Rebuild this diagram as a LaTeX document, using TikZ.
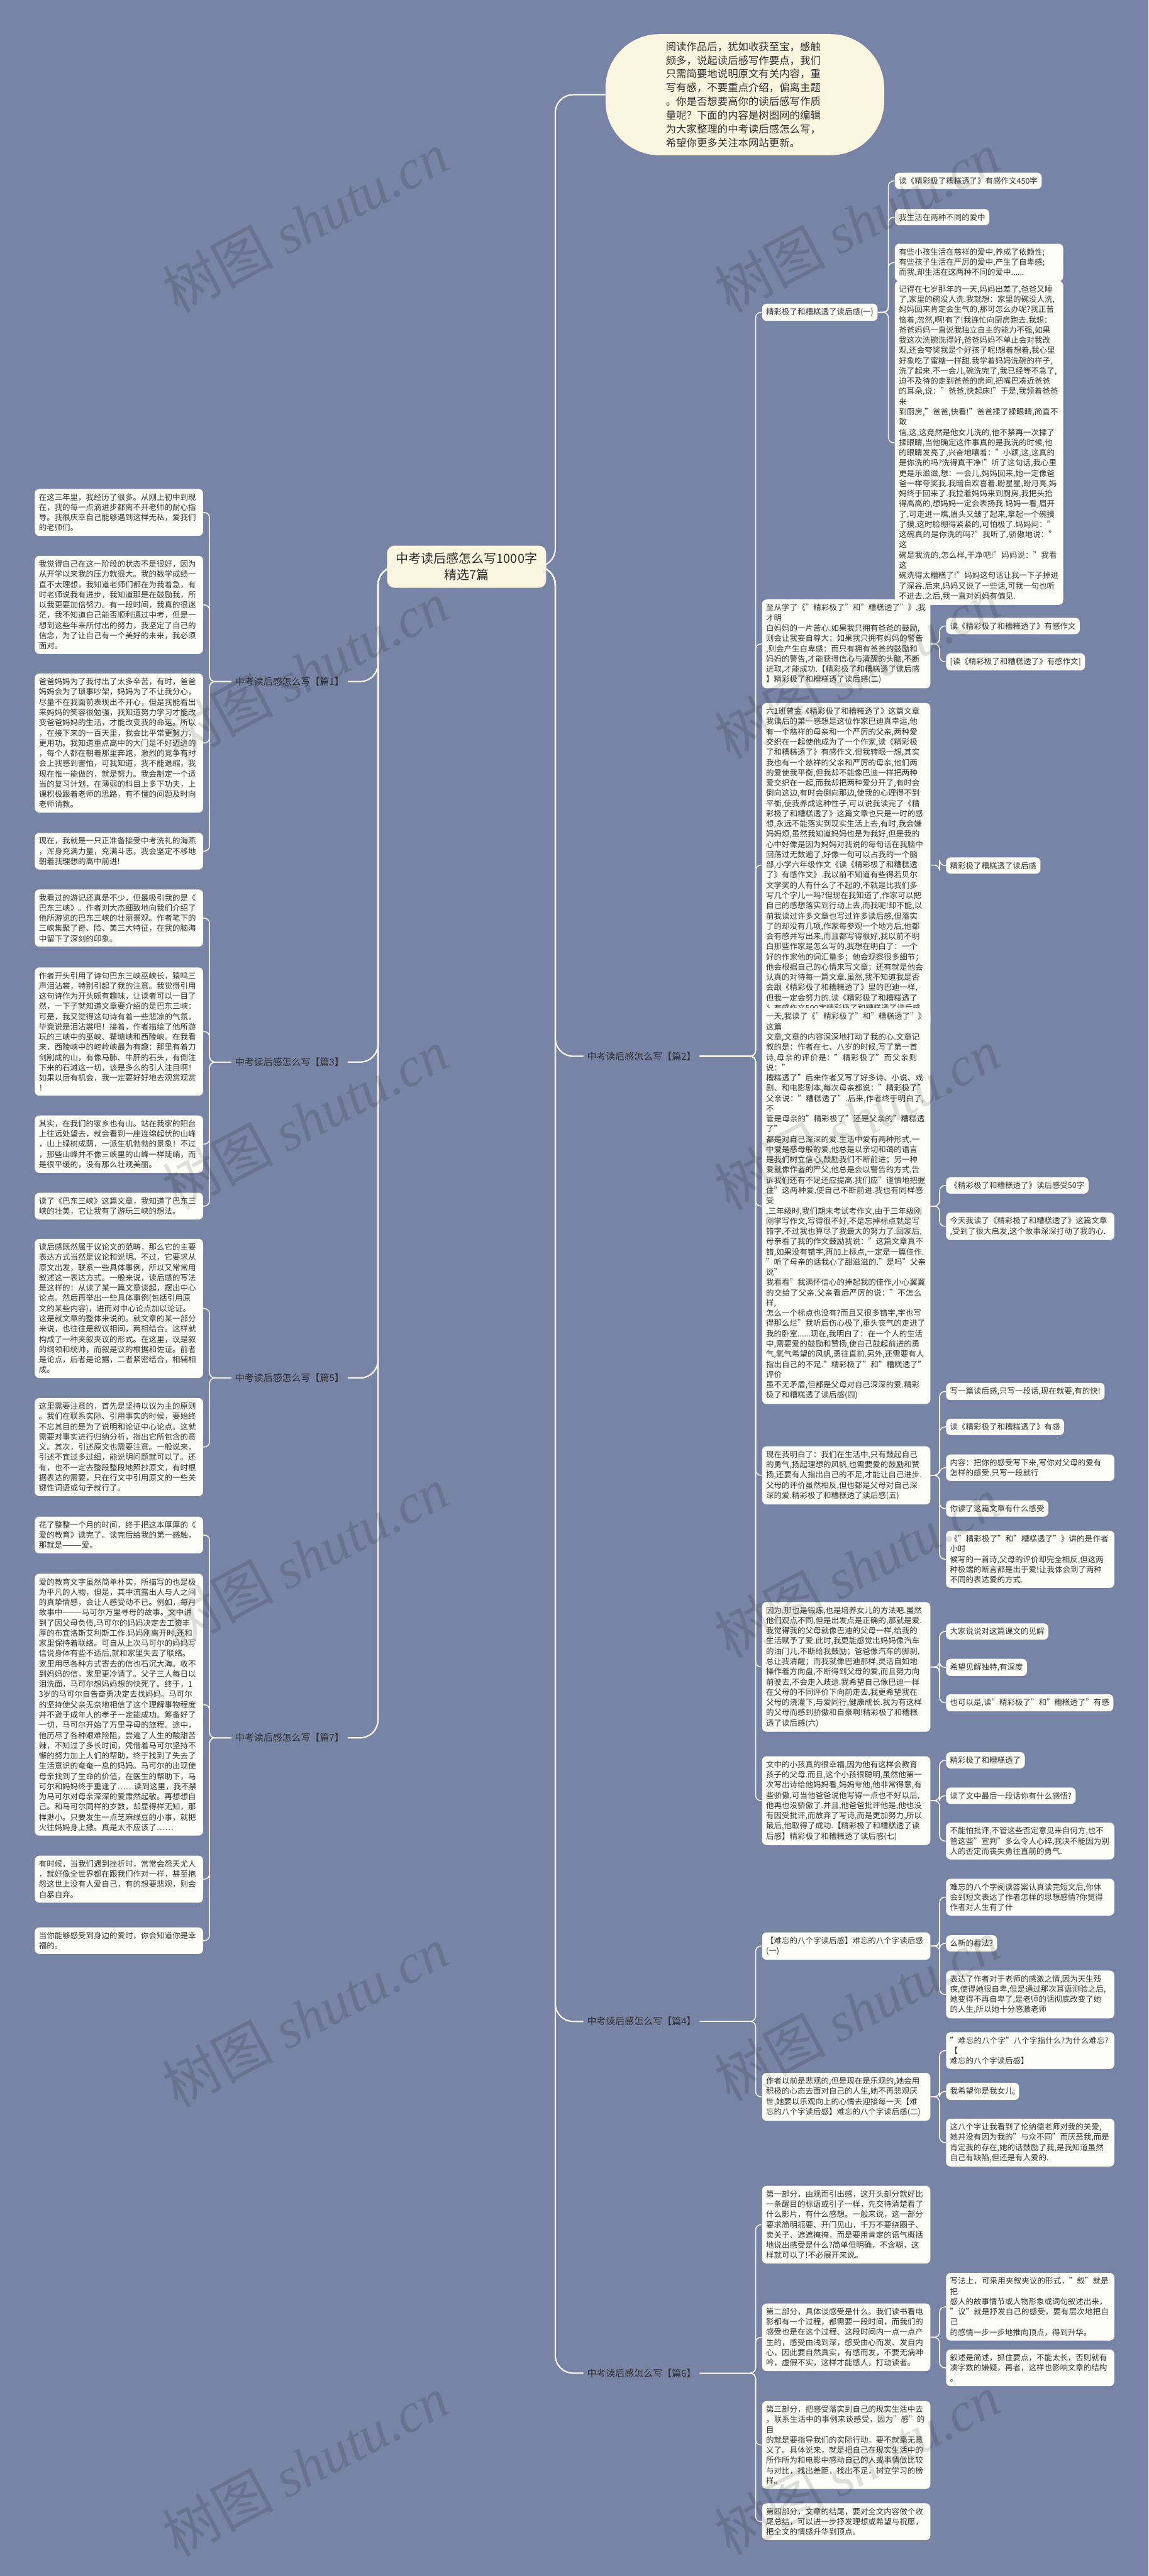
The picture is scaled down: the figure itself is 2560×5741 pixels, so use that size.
\documentclass[tikz,border=0pt]{standalone}
\usepackage{fontspec}
\setmainfont{Noto Sans CJK SC}
\newfontfamily\wmlatin{Liberation Serif}
\XeTeXlinebreaklocale "zh"
\XeTeXlinebreakskip = 0pt plus 1pt
\usetikzlibrary{calc}
\definecolor{bg}{HTML}{7884A5}
\definecolor{boxfill}{HTML}{FEFEF8}
\definecolor{cream}{HTML}{FBF6E0}
\definecolor{linec}{HTML}{F6F3E6}
\definecolor{txt}{HTML}{303030}
\newcommand\myrc[2]{\draw[conn] (#1.east) -| ($(#2.west)+(-14,0)$) -- (#2.west);}
\newcommand\mylc[2]{\draw[conn] (#1.west) -| ($(#2.east)+(14,0)$) -- (#2.east);}
\begin{document}
\begin{tikzpicture}[x=0.5pt,y=-0.5pt,
  box/.style={fill=boxfill, rounded corners=5pt, align=left, inner xsep=4.5pt, inner ysep=5pt,
    font=\fontsize{8.75pt}{11.4pt}\selectfont, text=txt},
  rbox/.style={box, anchor=west},
  lbox/.style={box, anchor=east, text width=178.5pt},
  wide/.style={text width=178.5pt},
  intro/.style={fill=cream, rounded corners=60pt, minimum width=310.5pt, minimum height=135pt,
    align=left, text width=176pt, font=\fontsize{11.5pt}{15.35pt}\selectfont, text=txt},
  centernode/.style={fill=cream, rounded corners=8pt, align=center, inner xsep=10pt, inner ysep=8pt,
    font=\fontsize{14pt}{18pt}\selectfont, text=txt},
  blabel/.style={font=\fontsize{10.5pt}{13pt}\selectfont, text=txt, inner sep=4pt},
  conn/.style={draw=linec, line width=1.1pt, rounded corners=6pt},
  conn2/.style={draw=linec, line width=1.6pt, rounded corners=20pt},
  wm/.style={rotate=28, text=black, opacity=0.12, font=\fontsize{62pt}{62pt}\selectfont},
]
\fill[bg] (0,0) rectangle (2560,5741);
\useasboundingbox (0,0) rectangle (2560,5741);

% ---------------- intro and centre ----------------
\node[intro] (intro) at (1660,211) {阅读作品后，犹如收获至宝，感触\\颇多，说起读后感写作要点，我们\\只需简要地说明原文有关内容，重\\写有感，不要重点介绍，偏离主题\\。你是否想要高你的读后感写作质\\量呢？下面的内容是树图网的编辑\\为大家整理的中考读后感怎么写，\\希望你更多关注本网站更新。};
\node[centernode] (center) at (1040,1263) {中考读后感怎么写1000字\\精选7篇};

\node[blabel, anchor=east] (b1) at (775,1519) {中考读后感怎么写【篇1】};
\node[blabel, anchor=east] (b3) at (775,2367) {中考读后感怎么写【篇3】};
\node[blabel, anchor=east] (b5) at (775,3071) {中考读后感怎么写【篇5】};
\node[blabel, anchor=east] (b7) at (775,3873) {中考读后感怎么写【篇7】};
\node[blabel, anchor=west] (b2) at (1300,2354) {中考读后感怎么写【篇2】};
\node[blabel, anchor=west] (b4) at (1300,4505) {中考读后感怎么写【篇4】};
\node[blabel, anchor=west] (b6) at (1300,5289) {中考读后感怎么写【篇6】};

% ---------------- right: 篇2 ----------------
\node[rbox] (r1) at (1698,696) {精彩极了和糟糕透了读后感(一)};
\node[rbox] (r1a) at (1994,403) {读《精彩极了糟糕透了》有感作文450字};
\node[rbox] (r1b) at (1994,484) {我生活在两种不同的爱中};
\node[rbox,wide] (r1c) at (1994,585) {有些小孩生活在慈祥的爱中,养成了依赖性;\\有些孩子生活在严厉的爱中,产生了自卑感;\\而我,却生活在这两种不同的爱中......};
\node[rbox,wide] (r1d) at (1994,987) {记得在七岁那年的一天,妈妈出差了,爸爸又睡\\了,家里的碗没人洗.我就想：家里的碗没人洗,\\妈妈回来肯定会生气的,那可怎么办呢?我正苦\\恼着,忽然,啊!有了!我连忙向厨房跑去.我想：\\爸爸妈妈一直说我独立自主的能力不强,如果\\我这次洗碗洗得好,爸爸妈妈不单止会对我改\\观,还会夸奖我是个好孩子呢!想着想着,我心里\\好象吃了蜜糖一样甜.我学着妈妈洗碗的样子,\\洗了起来.不一会儿,碗洗完了,我已经等不急了,\\迫不及待的走到爸爸的房间,把嘴巴凑近爸爸\\的耳朵,说："爸爸,快起床!"于是,我领着爸爸来\\到厨房,"爸爸,快看!"爸爸揉了揉眼睛,简直不敢\\信,这,这竟然是他女儿洗的,他不禁再一次揉了\\揉眼睛,当他确定这件事真的是我洗的时候,他\\的眼睛发亮了,兴奋地嚷着："小颖,这,这真的\\是你洗的吗?洗得真干净!"听了这句话,我心里\\更是乐滋滋,想：一会儿,妈妈回来,她一定像爸\\爸一样夸奖我.我暗自欢喜着.盼星星,盼月亮,妈\\妈终于回来了.我拉着妈妈来到厨房,我把头抬\\得高高的,想妈妈一定会表扬我.妈妈一看,眉开\\了,可走进一瞧,眉头又皱了起来,拿起一个碗摸\\了摸,这时脸绷得紧紧的,可怕极了.妈妈问："\\这碗真的是你洗的吗?"我听了,骄傲地说："这\\碗是我洗的,怎么样,干净吧!"妈妈说："我看这\\碗洗得太糟糕了!"妈妈这句话让我一下子掉进\\了深谷.后来,妈妈又说了一些话,可我一句也听\\不进去.之后,我一直对妈妈有偏见.};

\node[rbox,wide] (r2) at (1698,1435) {至从学了《"精彩极了"和"糟糕透了"》,我才明\\白妈妈的一片苦心.如果我只拥有爸爸的鼓励,\\则会让我妄自尊大；如果我只拥有妈妈的警告\\,则会产生自卑感：而只有拥有爸爸的鼓励和\\妈妈的警告,才能获得信心与清醒的头脑,不断\\进取,才能成功.【精彩极了和糟糕透了读后感\\】精彩极了和糟糕透了读后感(二)};
\node[rbox] (r2a) at (2108,1395) {读《精彩极了和糟糕透了》有感作文};
\node[rbox] (r2b) at (2108,1475) {[读《精彩极了和糟糕透了》有感作文]};

\node[rbox,wide] (r3) at (1698,1928) {六1班曾金《精彩极了和糟糕透了》这篇文章\\我读后的第一感想是这位作家巴迪真幸运,他\\有一个慈祥的母亲和一个严厉的父亲,两种爱\\交织在一起使他成为了一个作家,读《精彩极\\了和糟糕透了》有感作文.但我转眼一想,其实\\我也有一个慈祥的父亲和严厉的母亲,他们两\\的爱使我平衡,但我却不能像巴迪一样把两种\\爱交织在一起,而我却把两种爱分开了,有时会\\倒向这边,有时会倒向那边,使我的心理得不到\\平衡,使我养成这种性子,可以说我读完了《精\\彩极了和糟糕透了》这篇文章也只是一时的感\\想,永远不能落实到现实生活上去,有时,我会嫌\\妈妈烦,虽然我知道妈妈也是为我好,但是我的\\心中好像是因为妈妈对我说的每句话在我脑中\\回荡过无数遍了,好像一句可以占我的一个脑\\部,小学六年级作文《读《精彩极了和糟糕透\\了》有感作文》.我以前不知道有些得若贝尔\\文学奖的人有什么了不起的,不就是比我们多\\写几个字儿一吗?但现在我知道了,作家可以把\\自己的感想落实到行动上去,而我呢!却不能,以\\前我读过许多文章也写过许多读后感,但落实\\了的却没有几项,作家每参观一个地方后,他都\\会有感并写出来,而且都写得很好,我以前不明\\白那些作家是怎么写的,我想在明白了：一个\\好的作家他的词汇量多；他会观察很多细节；\\他会根据自己的心情来写文章；还有就是他会\\认真的对待每一篇文章.虽然,我不知道我是否\\会跟《精彩极了和糟糕透了》里的巴迪一样,\\但我一定会努力的.读《精彩极了和糟糕透了\\》有感作文500字精彩极了和糟糕透了读后感\\(三)};
\node[rbox] (r3a) at (2108,1929) {精彩极了糟糕透了读后感};

\node[rbox,wide] (r4) at (1698,2688) {一天,我读了《"精彩极了"和"糟糕透了"》这篇\\文章,文章的内容深深地打动了我的心.文章记\\叙的是：作者在七、八岁的时候,写了第一首\\诗,母亲的评价是："精彩极了"而父亲则说："\\糟糕透了"后来作者又写了好多诗、小说、戏\\剧、和电影剧本,每次母亲都说："精彩极了"\\父亲说："糟糕透了".后来,作者终于明白了,不\\管是母亲的"精彩极了"还是父亲的"糟糕透了"\\都是对自己深深的爱.生活中爱有两种形式,一\\中爱是慈母般的爱,他总是以亲切和蔼的语言\\是我们树立信心,鼓励我们不断前进；另一种\\爱就像作者的严父,他总是会以警告的方式,告\\诉我们还有不足还应提高.我们应"谨慎地把握\\住"这两种爱,使自己不断前进.我也有同样感受\\,三年级时,我们期末考试考作文,由于三年级刚\\刚学写作文,写得很不好,不是忘掉标点就是写\\错字,不过我也算尽了我最大的努力了.回家后,\\母亲看了我的作文鼓励我说："这篇文章真不\\错,如果没有错字,再加上标点,一定是一篇佳作.\\"听了母亲的话我心了甜滋滋的."是吗"父亲说"\\我看看"我满怀信心的捧起我的佳作,小心翼翼\\的交给了父亲.父亲看后严厉的说："不怎么样,\\怎么一个标点也没有?而且又很多错字,字也写\\得那么烂"我听后伤心极了,垂头丧气的走进了\\我的卧室......现在,我明白了：在一个人的生活\\中,需要爱的鼓励和赞扬,使自己鼓起前进的勇\\气,氧气希望的风帆,勇往直前.另外,还需要有人\\指出自己的不足."精彩极了"和"糟糕透了"评价\\虽不无矛盾,但都是父母对自己深深的爱.精彩\\极了和糟糕透了读后感(四)};
\node[rbox] (r4a) at (2108,2642) {《精彩极了和糟糕透了》读后感受50字};
\node[rbox,wide] (r4b) at (2108,2733) {今天我读了《精彩极了和糟糕透了》这篇文章\\,受到了很大启发,这个故事深深打动了我的心.};

\node[rbox,wide] (r5) at (1698,3288) {现在我明白了：我们在生活中,只有鼓起自己\\的勇气,扬起理想的风帆,也需要爱的鼓励和赞\\扬,还要有人指出自己的不足,才能让自己进步.\\父母的评价虽然相反,但也都是父母对自己深\\深的爱.精彩极了和糟糕透了读后感(五)};
\node[rbox] (r5a) at (2108,3101) {写一篇读后感,只写一段话,现在就要,有的快!};
\node[rbox] (r5b) at (2108,3180) {读《精彩极了和糟糕透了》有感};
\node[rbox,wide] (r5c) at (2108,3271) {内容：把你的感受写下来,写你对父母的爱有\\怎样的感受.只写一段就行};
\node[rbox] (r5d) at (2108,3362) {你读了这篇文章有什么感受};
\node[rbox,wide] (r5e) at (2108,3475) {《"精彩极了"和"糟糕透了"》讲的是作者小时\\候写的一首诗,父母的评价却完全相反,但这两\\种极端的断言都是出于爱!让我体会到了两种\\不同的表达爱的方式.};

\node[rbox,wide] (r6) at (1698,3715) {因为,那也是锻炼,也是培养女儿的方法吧.虽然\\他们观点不同,但是出发点是正确的,那就是爱.\\我觉得我的父母就像巴迪的父母一样,给我的\\生活赋予了爱.此时,我更能感觉出妈妈像汽车\\的油门儿,不断给我鼓励；爸爸像汽车的脚刹,\\总让我清醒；而我就像巴迪那样,灵活自如地\\操作着方向盘,不断得到父母的爱,而且努力向\\前驶去,不会走入歧途.我希望自己像巴迪一样\\在父母的不同评价下向前走去,我更希望我在\\父母的浇灌下,与爱同行,健康成长.我为有这样\\的父母而感到骄傲和自豪啊!精彩极了和糟糕\\透了读后感(六)};
\node[rbox] (r6a) at (2108,3636) {大家说说对这篇课文的见解};
\node[rbox] (r6b) at (2108,3716) {希望见解独特,有深度};
\node[rbox] (r6c) at (2108,3795) {也可以是,读"精彩极了"和"糟糕透了"有感};

\node[rbox,wide] (r7) at (1698,4013) {文中的小孩真的很幸福,因为他有这样会教育\\孩子的父母.而且,这个小孩很聪明,虽然他第一\\次写出诗给他妈妈看,妈妈夸他,他非常得意,有\\些骄傲,可当他爸爸说他写得一点也不好以后,\\他再也没骄傲了.并且,他爸爸批评他是,他也没\\有因受批评,而放弃了写诗,而是更加努力,所以\\最后,他取得了成功.【精彩极了和糟糕透了读\\后感】精彩极了和糟糕透了读后感(七)};
\node[rbox] (r7a) at (2108,3923) {精彩极了和糟糕透了};
\node[rbox] (r7b) at (2108,4002) {读了文中最后一段话你有什么感悟?};
\node[rbox,wide] (r7c) at (2108,4103) {不能怕批评,不管这些否定意见来自何方,也不\\管这些"宣判"多么令人心碎,我决不能因为别\\人的否定而丧失勇往直前的勇气.};

% ---------------- right: 篇4 ----------------
\node[rbox,wide] (r8) at (1698,4337) {【难忘的八个字读后感】难忘的八个字读后感\\(一)};
\node[rbox,wide] (r8a) at (2108,4228) {难忘的八个字阅读答案认真读完短文后,你体\\会到短文表达了作者怎样的思想感情?你觉得\\作者对人生有了什};
\node[rbox] (r8b) at (2108,4331) {么新的看法?};
\node[rbox,wide] (r8c) at (2108,4445) {表达了作者对于老师的感激之情,因为天生残\\疾,使得她很自卑,但是通过那次耳语测验之后,\\她变得不再自卑了,是老师的话彻底改变了她\\的人生,所以她十分感激老师};
\node[rbox,wide] (r9) at (1698,4673) {作者以前是悲观的,但是现在是乐观的,她会用\\积极的心态去面对自己的人生,她不再悲观厌\\世,她要以乐观向上的心情去迎接每一天【难\\忘的八个字读后感】难忘的八个字读后感(二)};
\node[rbox,wide] (r9a) at (2108,4570) {"难忘的八个字"八个字指什么?为什么难忘?【\\难忘的八个字读后感】};
\node[rbox] (r9b) at (2108,4661) {我希望你是我女儿;};
\node[rbox,wide] (r9c) at (2108,4775) {这八个字让我看到了伦纳德老师对我的关爱,\\她并没有因为我的"与众不同"而厌恶我,而是\\肯定我的存在,她的话鼓励了我,是我知道虽然\\自己有缺陷,但还是有人爱的.};

% ---------------- right: 篇6 ----------------
\node[rbox,wide] (r10) at (1698,4958) {第一部分，由观而引出感，这开头部分就好比\\一条醒目的标语或引子一样，先交待清楚看了\\什么影片，有什么感想。一般来说，这一部分\\要求简明扼要、开门见山，千万不要绕圈子、\\卖关子、遮遮掩掩，而是要用肯定的语气概括\\地说出感受是什么?简单但明确，不含糊，这\\样就可以了!不必展开来说。};
\node[rbox,wide] (r11) at (1698,5209) {第二部分，具体谈感受是什么。我们读书看电\\影都有一个过程，都需要一段时间，而我们的\\感受也是在这个过程、这段时间内一点一点产\\生的，感受由浅到深，感受由心而发、发自内\\心，因此要自然真实，有感而发，不要无病呻\\吟，虚假不实，这样才能感人，打动读者。};
\node[rbox,wide] (r11a) at (2108,5141) {写法上，可采用夹叙夹议的形式，"叙"就是把\\感人的故事情节或人物形象或词句叙述出来，\\"议"就是抒发自己的感受，要有层次地把自己\\的感情一步一步地推向顶点，得到升华。};
\node[rbox,wide] (r11b) at (2108,5277) {叙述是简述，抓住要点，不能太长，否则就有\\凑字数的嫌疑，再者，这样也影响文章的结构\\。};
\node[rbox,wide] (r12) at (1698,5449) {第三部分，把感受落实到自己的现实生活中去\\，联系生活中的事例来谈感受，因为"感"的目\\的就是要指导我们的实际行动，要不就毫无意\\义了。具体说来，就是把自己在现实生活中的\\所作所为和电影中感动自己的人或事情做比较\\与对比，找出差距，找出不足，树立学习的榜\\样。};
\node[rbox,wide] (r13) at (1698,5620) {第四部分，文章的结尾，要对全文内容做个收\\尾总结，可以进一步抒发理想或希望与祝愿，\\把全文的情感升华到顶点。};

% ---------------- left: 篇1 ----------------
\node[lbox] (l1) at (453,1142) {在这三年里，我经历了很多。从刚上初中到现\\在，我的每一点滴进步都离不开老师的耐心指\\导。我很庆幸自己能够遇到这样无私，爱我们\\的老师们。};
\node[lbox] (l2) at (453,1348) {我觉得自己在这一阶段的状态不是很好，因为\\从开学以来我的压力就很大。我的数学成绩一\\直不太理想，我知道老师们都在为我着急，有\\时老师说我有进步，我知道那是在鼓励我，所\\以我更要加倍努力。有一段时间，我真的很迷\\茫，我不知道自己能否顺利通过中考，但是一\\想到这些年来所付出的努力，我坚定了自己的\\信念，为了让自己有一个美好的未来，我必须\\面对。};
\node[lbox] (l3) at (453,1656) {爸爸妈妈为了我付出了太多辛苦，有时，爸爸\\妈妈会为了琐事吵架，妈妈为了不让我分心，\\尽量不在我面前表现出不开心，但是我能看出\\来妈妈的笑容很勉强，我知道努力学习才能改\\变爸爸妈妈的生活，才能改变我的命运。所以\\，在接下来的一百天里，我会比平常更努力，\\更用功。我知道重点高中的大门是不好迈进的\\，每个人都在朝着那里奔跑，激烈的竞争有时\\会上我感到害怕，可我知道，我不能退缩，我\\现在惟一能做的，就是努力。我会制定一个适\\当的复习计划，在薄弱的科目上多下功夫，上\\课积极跟着老师的思路，有不懂的问题及时向\\老师请教。};
\node[lbox] (l4) at (453,1897) {现在，我就是一只正准备接受中考洗礼的海燕\\，浑身充满力量，充满斗志，我会坚定不移地\\朝着我理想的高中前进!};

% ---------------- left: 篇3 ----------------
\node[lbox] (l5) at (453,2046) {我看过的游记还真是不少，但最吸引我的是《\\巴东三峡》。作者刘大杰细致地向我们介绍了\\他所游览的巴东三峡的壮丽景观。作者笔下的\\三峡集聚了奇、险、美三大特征，在我的脑海\\中留下了深刻的印象。};
\node[lbox] (l6) at (453,2299) {作者开头引用了诗句巴东三峡巫峡长，猿鸣三\\声泪沾裳，特别引起了我的注意。我觉得引用\\这句诗作为开头颇有趣味，让读者可以一目了\\然，一下子就知道文章要介绍的是巴东三峡：\\可是，我又觉得这句诗有着一些悲凉的气氛，\\毕竟说是泪沾裳吧！接着，作者描绘了他所游\\玩的三峡中的巫峡、瞿塘峡和西陵峡。在我看\\来，西陵峡中的崆岭峡最为有趣：那里有着刀\\剑削成的山，有像马肺、牛肝的石头，有倒注\\下来的石滩这一切，该是多么的引人注目啊！\\如果以后有机会，我一定要好好地去观赏观赏\\！};
\node[lbox] (l7) at (453,2550) {其实，在我们的家乡也有山。站在我家的阳台\\上往远处望去，就会看到一座连绵起伏的山峰\\，山上绿树成荫，一派生机勃勃的景象！不过\\，那些山峰并不像三峡里的山峰一样陡峭，而\\是很平缓的，没有那么壮观美丽。};
\node[lbox] (l8) at (453,2688) {读了《巴东三峡》这篇文章，我知道了巴东三\\峡的壮美，它让我有了游玩三峡的想法。};

% ---------------- left: 篇5 ----------------
\node[lbox] (l9) at (453,2916) {读后感既然属于议论文的范畴，那么它的主要\\表达方式当然是议论和说明。不过，它要求从\\原文出发，联系一些具体事例，所以又常常用\\叙述这一表达方式。一般来说，读后感的写法\\是这样的：从读了某一篇文章谈起，摆出中心\\论点。然后再举出一些具体事例(包括引用原\\文的某些内容)，进而对中心论点加以论证。\\这是就文章的整体来说的。就文章的某一部分\\来说，也往往是叙议相间，两相结合。这样就\\构成了一种夹叙夹议的形式。在这里，议是叙\\的纲领和统帅，而叙是议的根据和佐证。前者\\是论点，后者是论据，二者紧密结合，相辅相\\成。};
\node[lbox] (l10) at (453,3225) {这里需要注意的，首先是坚持以议为主的原则\\。我们在联系实际、引用事实的时候，要始终\\不忘其目的是为了说明和论证中心论点。这就\\需要对事实进行归纳分析，指出它所包含的意\\义。其次，引述原文也需要注意。一般说来，\\引述不宜过多过细，能说明问题就可以了。还\\有，也不一定去整段整段地照抄原文，有时根\\据表达的需要，只在行文中引用原文的一些关\\键性词语或句子就行了。};

% ---------------- left: 篇7 ----------------
\node[lbox] (l11) at (453,3421) {花了整整一个月的时间，终于把这本厚厚的《\\爱的教育》读完了。读完后给我的第一感触，\\那就是———爱。};
\node[lbox] (l12) at (453,3799) {爱的教育文字虽然简单朴实，所描写的也是极\\为平凡的人物，但是，其中流露出人与人之间\\的真挚情感，会让人感受动不已。例如，每月\\故事中———马可尔万里寻母的故事。文中讲\\到了因父母负债,马可尔的妈妈决定去工资丰\\厚的布宜洛斯艾利斯工作.妈妈刚离开时,还和\\家里保持着联络。可自从上次马可尔的妈妈写\\信说身体有些不适后,就和家里失去了联络。\\家里用尽各种方式寄去的信也石沉大海。收不\\到妈妈的信，家里更冷请了。父子三人每日以\\泪洗面，马可尔想妈妈想的快死了。终于，1\\3岁的马可尔自告奋勇决定去找妈妈。马可尔\\的坚持使父亲无奈地相信了这个理解事物程度\\并不逊于成年人的孝子一定能成功。筹备好了\\一切，马可尔开始了万里寻母的旅程。途中，\\他历尽了各种艰难险阻，尝遍了人生的酸甜苦\\辣，不知过了多长时间，凭借着马可尔坚持不\\懈的努力加上人们的帮助，终于找到了失去了\\生活意识的奄奄一息的妈妈。马可尔的出现使\\母亲找到了生命的价值，在医生的帮助下，马\\可尔和妈妈终于重逢了……读到这里，我不禁\\为马可尔对母亲深深的爱肃然起敬。再想想自\\己。和马可尔同样的岁数，却显得样无知，那\\样渺小。只要发生一点芝麻绿豆的小事，就把\\火往妈妈身上撒。真是太不应该了……};
\node[lbox] (l13) at (453,4188) {有时候，当我们遇到挫折时，常常会怨天尤人\\，就好像全世界都在跟我们作对一样，甚至抱\\怨这世上没有人爱自己，有的想要悲观，则会\\自暴自弃。};
\node[lbox] (l14) at (453,4325) {当你能够感受到身边的爱时，你会知道你是幸\\福的。};

% ---------------- connectors ----------------
\draw[conn2] (center.east) -- ++(20,0) |- (intro.west);
\draw[conn2] (center.east) -- ++(20,0) |- (b2.west);
\draw[conn2] (center.east) -- ++(20,0) |- (b4.west);
\draw[conn2] (center.east) -- ++(20,0) |- (b6.west);
\draw[conn2] (center.west) -- ++(-20,0) |- (b1.east);
\draw[conn2] (center.west) -- ++(-20,0) |- (b3.east);
\draw[conn2] (center.west) -- ++(-20,0) |- (b5.east);
\draw[conn2] (center.west) -- ++(-20,0) |- (b7.east);

\foreach \c in {r1,r2,r3,r4,r5,r6,r7} {\myrc{b2}{\c}}
\foreach \c in {r1a,r1b,r1c,r1d} {\myrc{r1}{\c}}
\foreach \c in {r2a,r2b} {\myrc{r2}{\c}}
\myrc{r3}{r3a}
\foreach \c in {r4a,r4b} {\myrc{r4}{\c}}
\foreach \c in {r5a,r5b,r5c,r5d,r5e} {\myrc{r5}{\c}}
\foreach \c in {r6a,r6b,r6c} {\myrc{r6}{\c}}
\foreach \c in {r7a,r7b,r7c} {\myrc{r7}{\c}}
\foreach \c in {r8,r9} {\myrc{b4}{\c}}
\foreach \c in {r8a,r8b,r8c} {\myrc{r8}{\c}}
\foreach \c in {r9a,r9b,r9c} {\myrc{r9}{\c}}
\foreach \c in {r10,r11,r12,r13} {\myrc{b6}{\c}}
\foreach \c in {r11a,r11b} {\myrc{r11}{\c}}
\foreach \c in {l1,l2,l3,l4} {\mylc{b1}{\c}}
\foreach \c in {l5,l6,l7,l8} {\mylc{b3}{\c}}
\foreach \c in {l9,l10} {\mylc{b5}{\c}}
\foreach \c in {l11,l12,l13,l14} {\mylc{b7}{\c}}

% ---------------- watermarks ----------------
\foreach \y in {495,1495,2495,3470,4495,5495} {\node[wm] at (680,\y) {树图 {\wmlatin\itshape shutu.cn}};}
\foreach \y in {495,1490,2494,3493,4480,5493} {\node[wm] at (1910,\y) {树图 {\wmlatin\itshape shutu.cn}};}
\end{tikzpicture}
\end{document}
